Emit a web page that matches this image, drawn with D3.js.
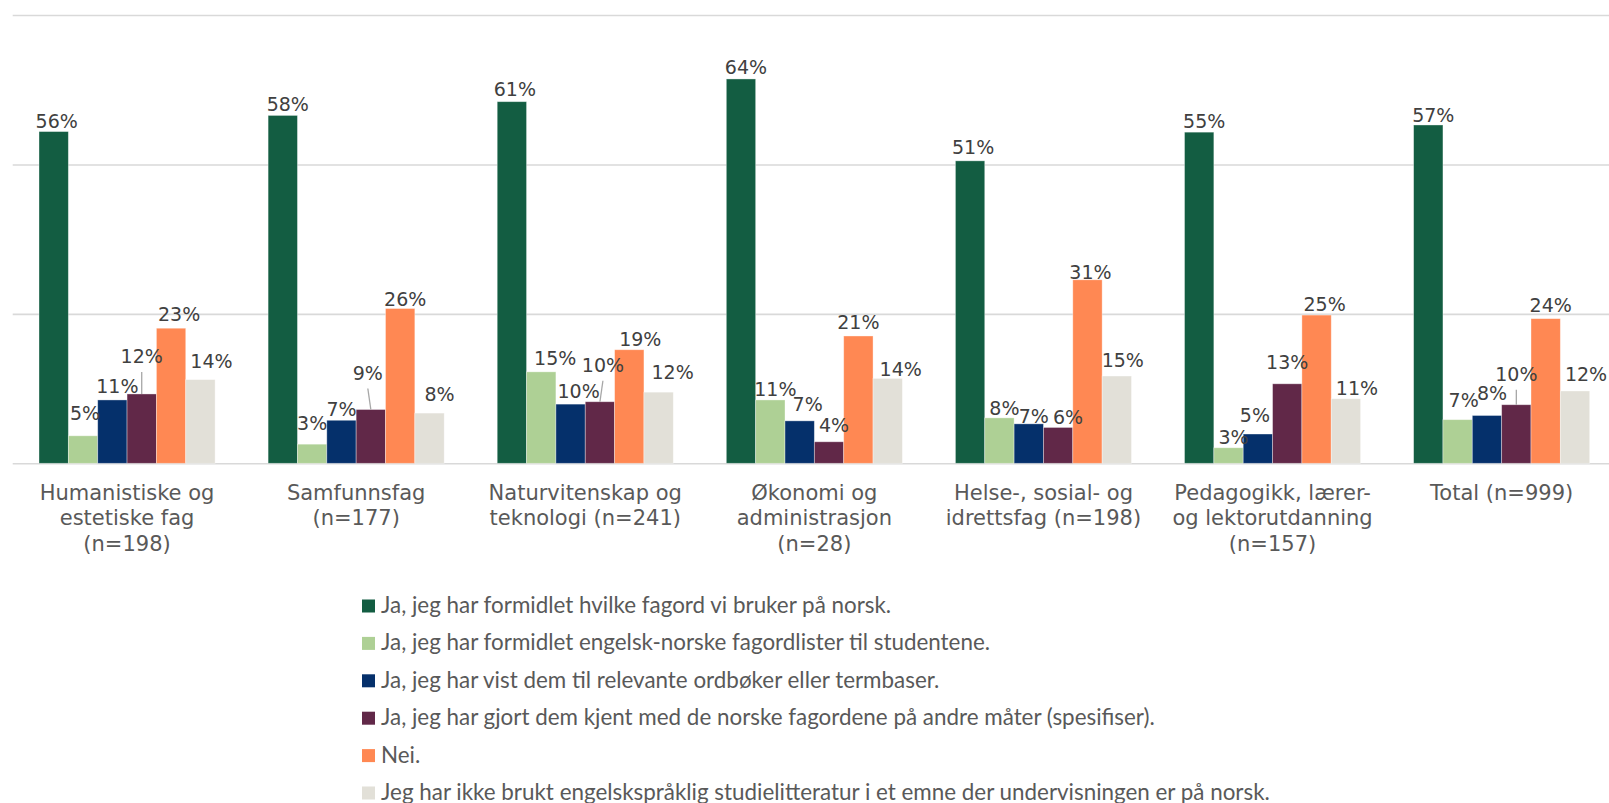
<!DOCTYPE html>
<html>
<head>
<meta charset="utf-8">
<script src="https://cdn.jsdelivr.net/npm/d3@7"></script>
<style>
  body { margin: 0; background: #fff; }
  svg { display: block; }
</style>
</head>
<body>
<div id="chart"></div>
<script>

// categories (line breaks as in the original axis labels)
var categories = [
    "Humanistiske og|estetiske fag|(n=198)",
    "Samfunnsfag|(n=177)",
    "Naturvitenskap og|teknologi (n=241)",
    "Økonomi og|administrasjon|(n=28)",
    "Helse-, sosial- og|idrettsfag (n=198)",
    "Pedagogikk, lærer-|og lektorutdanning|(n=157)",
    "Total (n=999)"
];

var seriesNames = [
    "Ja, jeg har formidlet hvilke fagord vi bruker på norsk.",
    "Ja, jeg har formidlet engelsk-norske fagordlister til studentene.",
    "Ja, jeg har vist dem til relevante ordbøker eller termbaser.",
    "Ja, jeg har gjort dem kjent med de norske fagordene på andre måter (spesifiser).",
    "Nei.",
    "Jeg har ikke brukt engelskspråklig studielitteratur i et emne der undervisningen er på norsk."
];

// percent values, one array per series
var jaFagord   = [55.5, 58.2, 60.5, 64.3, 50.6, 55.4, 56.6];
var jaLister   = [4.6, 3.2, 15.3, 10.6, 7.6, 2.6, 7.3];
var jaOrdboker = [10.6, 7.2, 9.9, 7.1, 6.6, 4.9, 8.0];
var jaAndre    = [11.6, 9.0, 10.3, 3.6, 6.0, 13.3, 9.8];
var nei        = [22.6, 25.9, 19.0, 21.3, 30.7, 24.8, 24.2];
var ikkeBrukt  = [14.0, 8.4, 11.9, 14.2, 14.6, 10.8, 12.1];

var yTicks = [0, 25, 50, 75];

var colors = ["#135d42", "#aed095", "#05306b", "#612848", "#ff8853", "#e2e0d8"];

// hand placed data labels: [dx, gap above bar] per category, per series
var labelNudge = [
    [[3, 4], [2, 16], [5, 7], [0, 31], [8, 7], [11, 12]],
    [[5, 4], [0, 14], [0, 4], [-3, 30], [5, 2], [10, 12]],
    [[3, 6], [14, 7], [8, 6], [3, 30], [11, 4], [14, 13]],
    [[5, 5], [5, 4], [8, 10], [5, 10], [0, 7], [13, 2]],
    [[3, 7], [5, 3], [5, 1], [10, 3], [3, 1], [6, 9]],
    [[5, 4], [5, 4], [-3, 12], [0, 15], [8, 4], [11, 4]],
    [[5, 3], [6, 13], [5, 15], [0, 24], [5, 7], [11, 10]]
];

var allSeries = [jaFagord, jaLister, jaOrdboker, jaAndre, nei, ikkeBrukt];

var width = 1609, height = 803;

var svg = d3.select("#chart").append("svg")
    .attr("width", width)
    .attr("height", height);

var x0 = d3.scaleBand()
    .domain(categories)
    .range([12.5, 1616.2])
    .paddingInner(0.2314)
    .paddingOuter(0.1157);

var x1 = d3.scaleBand()
    .domain(d3.range(seriesNames.length))
    .range([0, x0.bandwidth()]);

var y = d3.scaleLinear()
    .domain([0, 75])
    .range([463.3, 15]);

// gridlines
var grid = svg.append("g")
    .attr("transform", "translate(12.7,0)")
    .call(d3.axisLeft(y).tickValues(yTicks).tickSize(-(width - 12.7)).tickFormat(""));
grid.select(".domain").remove();
grid.selectAll(".tick line")
    .attr("stroke", "#d9d9d9")
    .attr("stroke-width", 1.6);

// bars
var rows = [];
categories.forEach(function(c, i) {
    allSeries.forEach(function(s, j) {
        rows.push({cat: c, ci: i, si: j, value: s[i]});
    });
});

svg.append("g")
    .selectAll("rect")
    .data(rows)
    .enter()
    .append("rect")
    .attr("x", function(d) { return x0(d.cat) + x1(d.si); })
    .attr("y", function(d) { return y(d.value); })
    .attr("width", x1.bandwidth())
    .attr("height", function(d) { return y(0) - y(d.value); })
    .attr("fill", function(d) { return colors[d.si]; })
    .attr("stroke", "#ffffff")
    .attr("stroke-opacity", 0.45)
    .attr("stroke-width", 0.8);

// data labels
var labels = svg.append("g")
    .attr("font-family", "'DejaVu Sans', Verdana, sans-serif")
    .attr("font-size", "19px")
    .attr("fill", "#404040");

rows.forEach(function(d) {
    var n = labelNudge[d.ci][d.si];
    var bx = x0(d.cat) + x1(d.si) + x1.bandwidth() / 2;
    var top = y(d.value);
    var lx = bx + n[0];
    var ly = top - n[1];
    labels.append("text")
        .attr("x", lx)
        .attr("y", ly)
        .attr("text-anchor", "middle")
        .text(Math.round(d.value) + "%");
    // leader line for labels pulled away from their bar
    if (n[1] > 20) {
        svg.append("line")
            .attr("x1", lx)
            .attr("y1", ly + 9)
            .attr("x2", bx)
            .attr("y2", top)
            .attr("stroke", "#a6a6a6")
            .attr("stroke-width", 1.3);
    }
});

// category labels
var catLabels = svg.append("g")
    .attr("font-family", "'DejaVu Sans', Verdana, sans-serif")
    .attr("font-size", "21px")
    .attr("fill", "#595959");

categories.forEach(function(c) {
    var t = catLabels.append("text")
        .attr("x", x0(c) + x0.bandwidth() / 2)
        .attr("y", 500)
        .attr("text-anchor", "middle");
    c.split("|").forEach(function(line, k) {
        t.append("tspan")
            .attr("x", x0(c) + x0.bandwidth() / 2)
            .attr("y", 500 + k * 25.3)
            .text(line);
    });
});

// legend
var legend = svg.append("g")
    .attr("font-family", "Lato, 'Open Sans', sans-serif")
    .attr("font-size", "22.4px")
    .attr("fill", "#595959");

seriesNames.forEach(function(name, i) {
    var cy = 606 + i * 37.4;
    legend.append("rect")
        .attr("x", 362)
        .attr("y", cy - 6.5)
        .attr("width", 13)
        .attr("height", 13)
        .attr("fill", colors[i]);
    legend.append("text")
        .attr("x", 381)
        .attr("y", cy + 7)
        .text(name);
});

</script>
</body>
</html>
